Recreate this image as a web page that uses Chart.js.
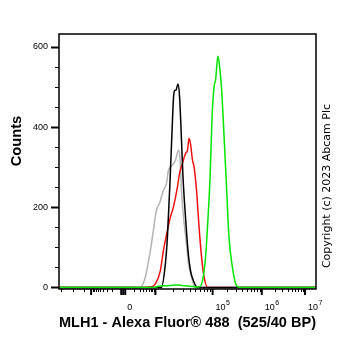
<!DOCTYPE html>
<html>
<head>
<meta charset="utf-8">
<script src="https://cdn.jsdelivr.net/npm/chart.js@4.4.1/dist/chart.umd.min.js"></script>
<style>
  body { margin: 0; background: #fff; }
  #wrap { position: relative; width: 362px; height: 351px; }
  .rot { position: absolute; transform: rotate(-90deg); text-align: center; white-space: nowrap; color: #000; }
  #ytitle { width: 120px; left: -44px; top: 132px; font: bold 14.7px "Liberation Sans", Arial, sans-serif; line-height: 18px; }
  #copy { width: 220px; left: 217px; top: 179px; font: 11px "DejaVu Sans", sans-serif; line-height: 14px; }
</style>
</head>
<body>
<div id="wrap">
  <canvas id="histChart" width="362" height="351"></canvas>
  <div id="ytitle" class="rot">Counts</div>
  <div id="copy" class="rot">Copyright (c) 2023 Abcam Plc</div>
</div>
<script>
// x values are display channels on the biexponential axis (0..256)
const grayX = [0, 81, 86, 91, 94, 97, 100, 104, 107, 109, 113, 116, 119, 120.5, 122, 124, 127, 129, 133, 136, 256];
const grayY = [0, 0, 26, 92, 142, 192, 209, 242, 259, 292, 305, 317, 342, 326, 242, 176, 109, 59, 17, 0, 0];

const redX = [0, 84, 91, 96, 101, 104, 108, 111, 114, 118, 120, 123, 126, 128, 129.5, 131, 133, 134.5, 137, 139.5, 142, 144.5, 148, 256];
const redY = [0, 0, 1, 9, 42, 92, 142, 176, 201, 251, 284, 309, 334, 342, 372, 358, 317, 301, 242, 151, 76, 26, 0, 0];

const blackX = [0, 102, 106, 108, 110.5, 112.5, 114, 115, 116.5, 118.5, 120, 121.5, 123.5, 126, 128.5, 131, 134.5, 138, 256];
const blackY = [0, 0, 60, 126, 259, 384, 470, 490, 492, 507, 480, 400, 276, 176, 92, 42, 13, 0, 0];

const greenX = [0, 95, 99, 105, 111, 119, 125, 131, 136, 139, 143, 146, 148.5, 150.5, 152.5, 154.5, 156, 158.3, 160.3, 162, 164.3, 166.7, 169.3, 172.7, 176, 179.5, 256];
const greenY = [0, 0, 3, 4, 5, 6, 4, 3, 1, 1, 17, 76, 176, 276, 426, 501, 518, 577, 543, 493, 384, 259, 126, 51, 9, 0, 0];

// axis ticks
const yMajor = [0, 200, 400, 600];
const yStep = 50;
const xMajor = [32, 62, 64, 66, 96, 153, 202, 245];
const xLabelPos = [65, 153, 202, 245];
const xLabelBase = ['0', '10', '10', '10'];
const xLabelExp = ['', '5', '6', '7'];
const xDecades = [[62, 32], [66, 96], [96, 153], [153, 202], [202, 245]];
const xMinorExtra = [2, 14, 25];

const xTitle = 'MLH1 - Alexa Fluor\u00ae 488  (525/40 BP)';
const fontFamily = '"Liberation Sans", Arial, sans-serif';

function toPoints(xs, ys) {
    return xs.map((x, i) => ({ x: x, y: ys[i] }));
}

const yTicks = [];
for (let v = 0; v <= 600; v += yStep) yTicks.push(v);

const xMinor = xMinorExtra.slice();
xDecades.forEach(([a, b]) => {
    for (let k = 2; k <= 9; k++) xMinor.push(a + (b - a) * Math.log10(k));
});

const axisMarks = {
    id: 'axisMarks',
    afterDraw(chart) {
        const { ctx, chartArea: area, scales: { x, y } } = chart;
        ctx.save();
        ctx.strokeStyle = '#000';
        ctx.fillStyle = '#000';

        // frame
        ctx.lineWidth = 1.5;
        ctx.strokeRect(area.left, area.top, area.right - area.left, area.bottom - area.top);

        // y tick marks
        yTicks.forEach(v => {
            const py = Math.round(y.getPixelForValue(v)) + 0.5;
            const major = yMajor.includes(v);
            ctx.lineWidth = major ? 2 : 1;
            ctx.beginPath();
            ctx.moveTo(area.left - (major ? 8 : 4), py);
            ctx.lineTo(area.left, py);
            ctx.stroke();
        });

        // x tick marks
        xMinor.forEach(v => {
            const px = Math.round(x.getPixelForValue(v)) + 0.5;
            ctx.lineWidth = 1;
            ctx.beginPath();
            ctx.moveTo(px, area.bottom);
            ctx.lineTo(px, area.bottom + 3);
            ctx.stroke();
        });
        xMajor.forEach(v => {
            const px = x.getPixelForValue(v);
            ctx.lineWidth = 2;
            ctx.beginPath();
            ctx.moveTo(px, area.bottom);
            ctx.lineTo(px, area.bottom + 6);
            ctx.stroke();
        });

        // x labels with superscript exponent
        ctx.textBaseline = 'alphabetic';
        ctx.textAlign = 'left';
        xLabelPos.forEach((v, i) => {
            const px = x.getPixelForValue(v) + 3;
            const py = area.bottom + 21;
            ctx.font = '9px ' + fontFamily;
            ctx.fillText(xLabelBase[i], px, py);
            if (xLabelExp[i]) {
                const w = ctx.measureText(xLabelBase[i]).width;
                ctx.font = '7px ' + fontFamily;
                ctx.fillText(xLabelExp[i], px + w + 0.5, py - 5);
            }
        });
        ctx.restore();
    }
};

const ctx = document.getElementById('histChart').getContext('2d');
const histChart = new Chart(ctx, {
    type: 'line',
    data: {
        datasets: [
            { label: 'green', data: toPoints(greenX, greenY), borderColor: '#00e600' },
            { label: 'black', data: toPoints(blackX, blackY), borderColor: '#000000' },
            { label: 'red', data: toPoints(redX, redY), borderColor: '#ee1111' },
            { label: 'gray', data: toPoints(grayX, grayY), borderColor: '#b4b4b4' }
        ]
    },
    options: {
        responsive: false,
        animation: false,
        layout: { padding: { top: 34, right: 46, left: 0, bottom: 0 } },
        elements: {
            point: { radius: 0 },
            line: { borderWidth: 1.5, cubicInterpolationMode: 'monotone', fill: false }
        },
        plugins: {
            legend: { display: false },
            tooltip: { enabled: false }
        },
        scales: {
            x: {
                type: 'linear',
                min: 0,
                max: 256,
                grid: { display: false, drawTicks: false },
                border: { display: false },
                ticks: { display: false },
                title: {
                    display: true,
                    text: xTitle,
                    color: '#000',
                    font: { family: fontFamily, size: 14.7, weight: 'bold' },
                    padding: { top: 0, bottom: 19 }
                },
                afterFit(scale) { scale.height = 62; }
            },
            y: {
                type: 'linear',
                min: -4,
                max: 632,
                grid: { display: false, drawTicks: false },
                border: { display: false },
                afterBuildTicks(scale) {
                    scale.ticks = yTicks.map(v => ({ value: v }));
                },
                ticks: {
                    autoSkip: false,
                    padding: 11,
                    color: '#000',
                    font: { family: fontFamily, size: 9 },
                    callback: v => (yMajor.includes(v) ? String(v) : '')
                },
                afterFit(scale) { scale.width = 59; }
            }
        }
    },
    plugins: [axisMarks]
});
</script>
</body>
</html>
